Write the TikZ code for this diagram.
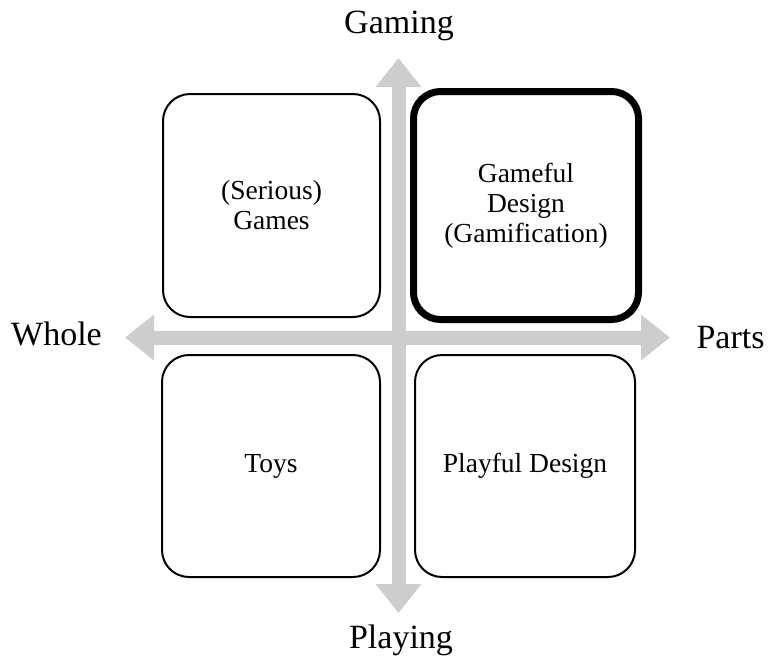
\documentclass[tikz,border=0pt]{standalone}
\usepackage{fontspec}
\setmainfont{Liberation Serif}
\usetikzlibrary{arrows.meta}
\definecolor{axisgray}{RGB}{205,205,205}
\tikzset{
  quadrant/.style={draw=black, line width=2pt, rounded corners=27pt, fill=white,
    align=center, inner sep=0pt,
    font=\fontsize{27.5pt}{30pt}\selectfont},
  highlight/.style={quadrant, line width=7pt},
  axislabel/.style={anchor=base, inner sep=0pt, font=\fontsize{34pt}{40pt}\selectfont},
  axis/.style={draw=axisgray, line width=14pt,
    {Triangle[width=44pt,length=29pt]}-{Triangle[width=44pt,length=29pt]}}
}
\begin{document}
\begin{tikzpicture}[x=1pt, y=-1pt]
  \useasboundingbox (0,0) rectangle (768,662);

  % axis end points
  \coordinate (top) at (398.5,58);
  \coordinate (bottom) at (398.5,613);
  \coordinate (left) at (125,337.5);
  \coordinate (right) at (670,337.5);

  % grey axes with arrow heads at both ends
  \draw[axis] (top) -- (bottom);
  \draw[axis] (left) -- (right);

  % axis labels
  \node[axislabel] (gaming) at (399,33) {Gaming};
  \node[axislabel] (playing) at (401,648) {Playing};
  \node[axislabel] (whole) at (56.5,345) {Whole};
  \node[axislabel] (parts) at (730.5,348) {Parts};

  % the four quadrants
  \node[quadrant, minimum width=217pt, minimum height=223pt] (serious) at (271.5,205.5)
    {(Serious)\\Games};
  \node[highlight, minimum width=225pt, minimum height=228pt] (gameful) at (526,205.5)
    {Gameful\\Design\\(Gamification)};
  \node[quadrant, minimum width=218pt, minimum height=222pt] (toys) at (271,466)
    {Toys};
  \node[quadrant, minimum width=220pt, minimum height=222pt] (playful) at (525,466)
    {Playful Design};
\end{tikzpicture}
\end{document}
